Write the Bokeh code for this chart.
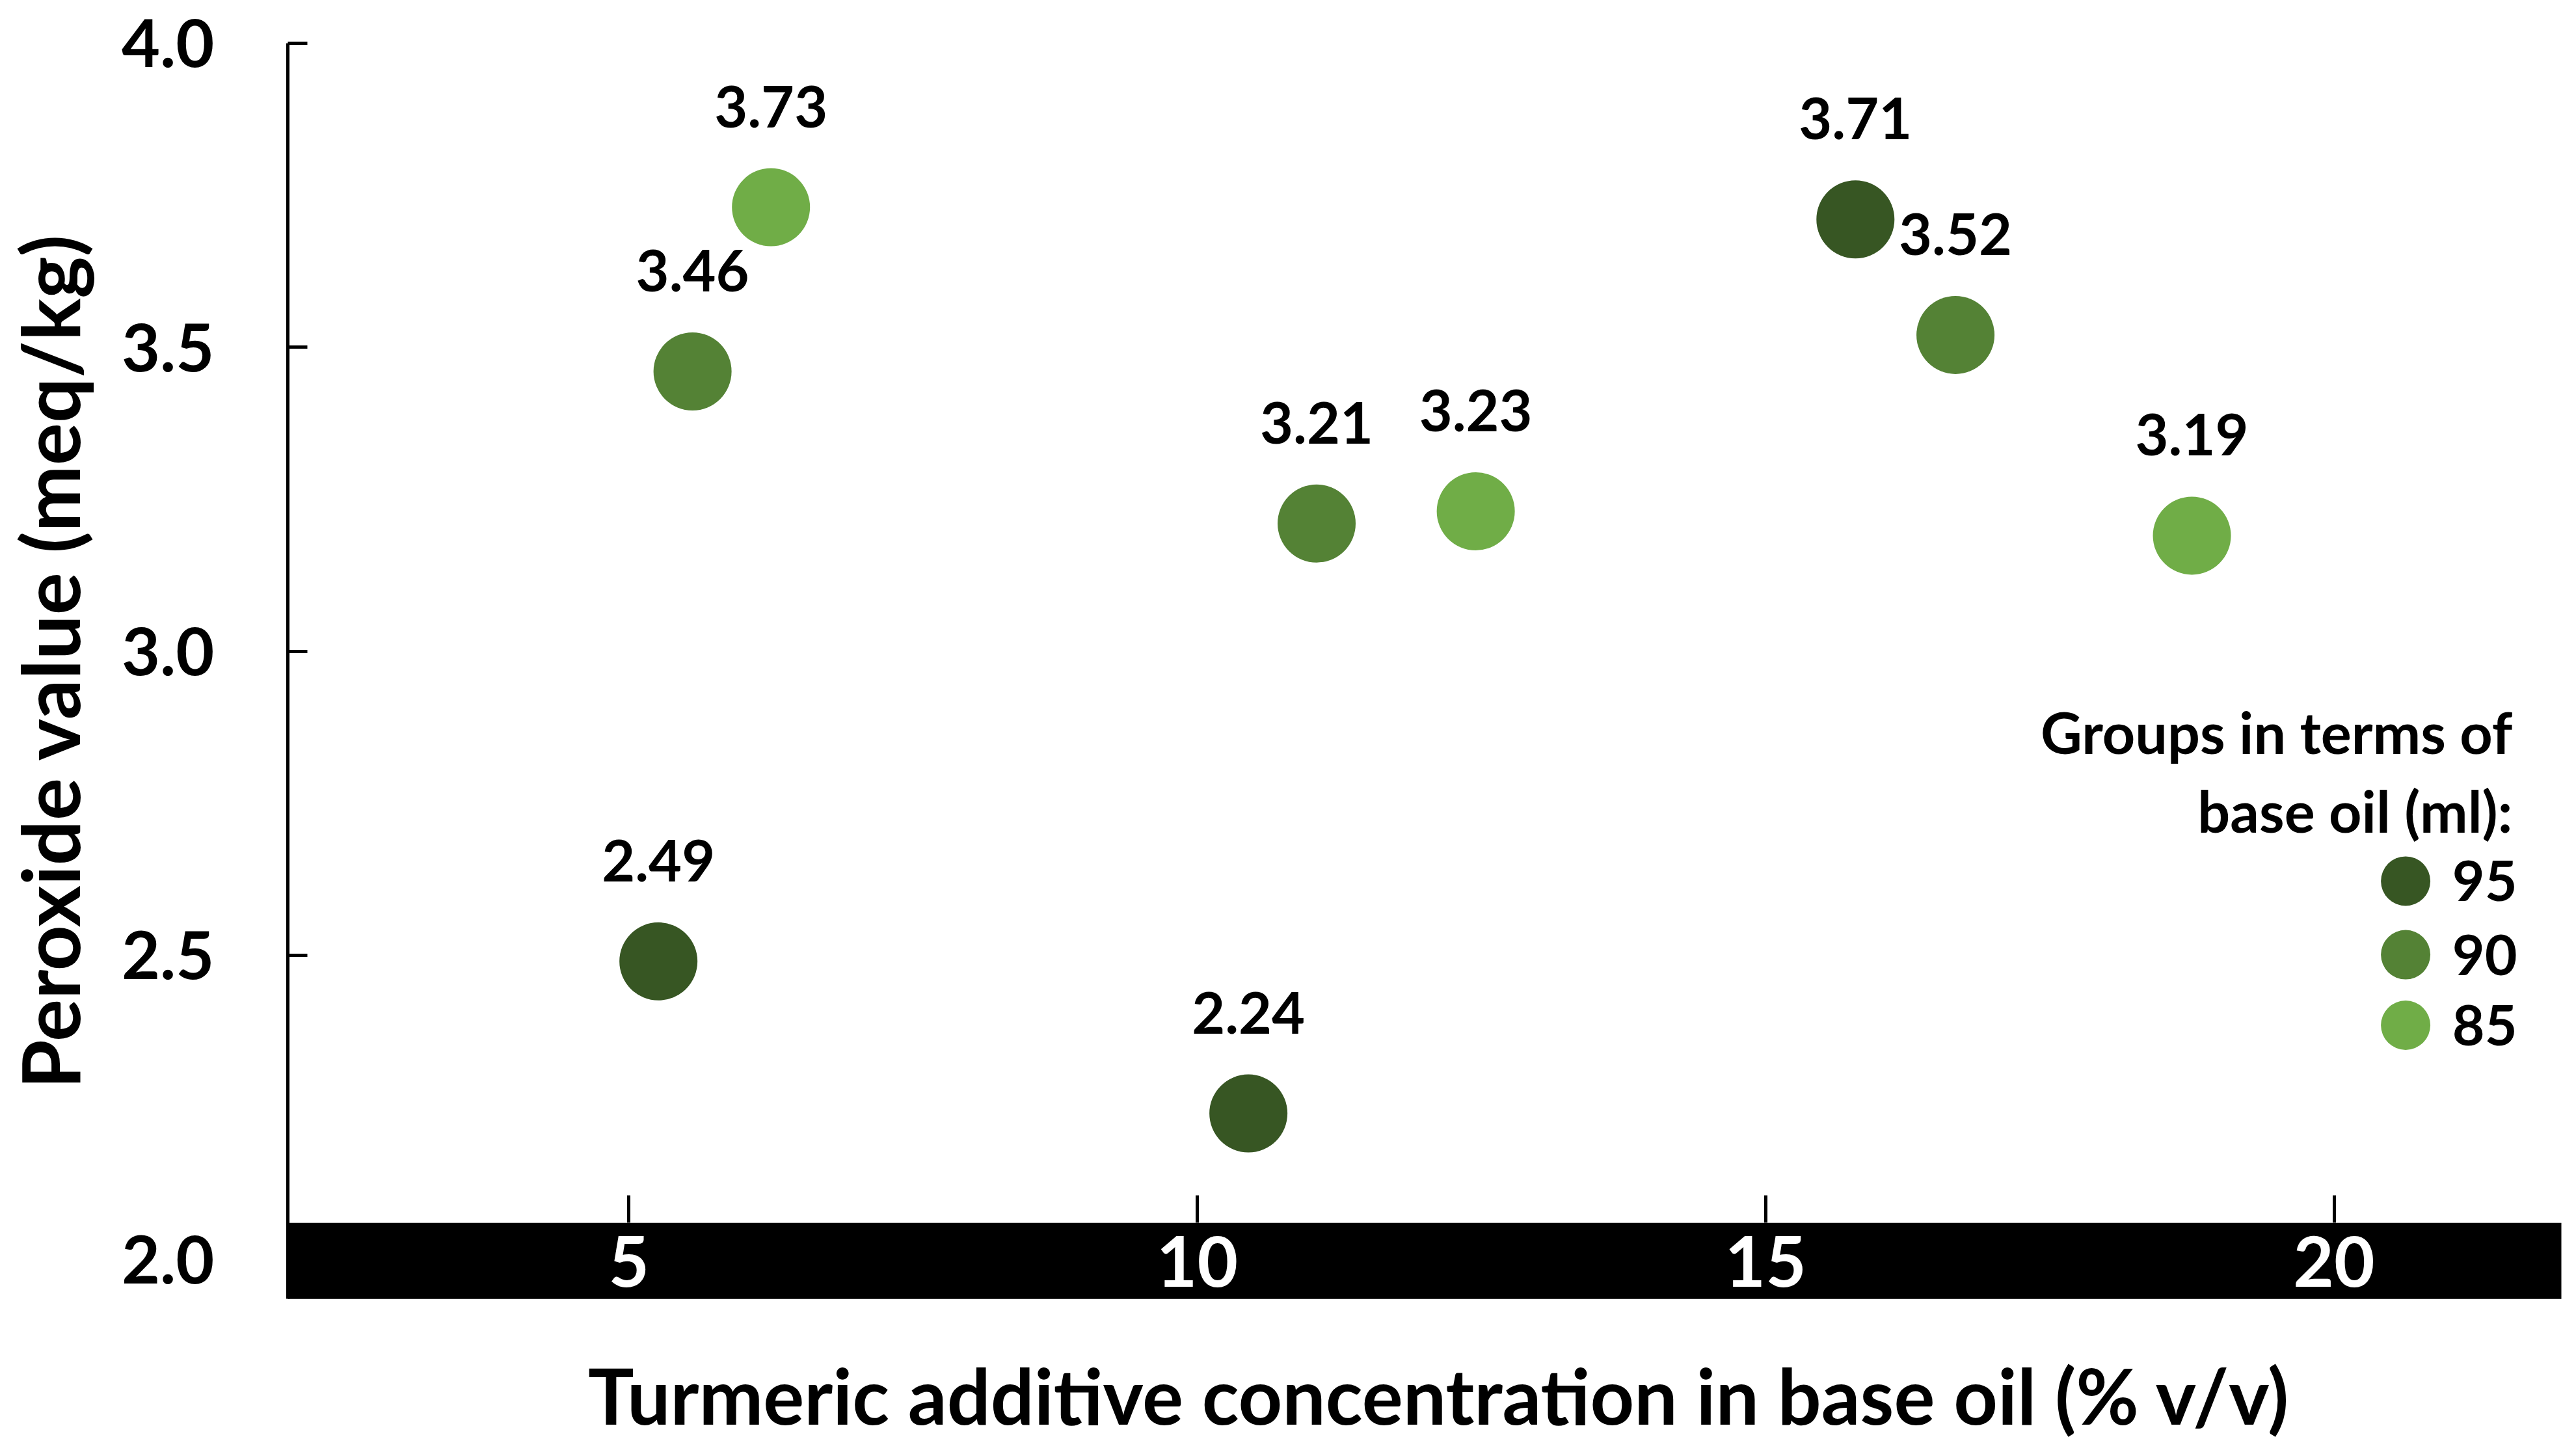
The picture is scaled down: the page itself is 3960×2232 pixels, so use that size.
import math
from bokeh.plotting import figure
from bokeh.models import (Range1d, LinearAxis, FixedTicker, BoxAnnotation, ColumnDataSource)
from bokeh.embed import file_html
from bokeh.resources import INLINE

# ---- data ----
groups = ["95", "90", "85"]
colors = ["#375623", "#548235", "#70AD47"]
x_95 = [5.26, 10.45, 15.79]
y_95 = [2.49, 2.24, 3.71]
x_90 = [5.56, 11.05, 16.67]
y_90 = [3.46, 3.21, 3.52]
x_85 = [6.25, 12.45, 18.75]
y_85 = [3.73, 3.23, 3.19]
x_ticks = [5, 10, 15, 20]
y_ticks = [2.0, 2.5, 3.0, 3.5, 4.0]
x_title = "Turmeric additive concentration in base oil (% v/v)"
y_title = "Peroxide value  (meq/kg)"
legend_title = ["Groups in terms of", "base oil (ml):"]

# ---- layout (plot coordinates) ----
X_MIN, X_MAX = 2.0, 22.0          # extent of the axes
Y_MIN, Y_MAX = 1.935, 4.0
BAND_TOP = 2.06
VIEW_X = (-0.5293, 22.04)         # whole canvas
VIEW_Y = (1.6999, 4.0702)
LEG_KEY_X = 20.63
LEG_TXT_X = 21.04
LEG_ROW_Y = [2.622, 2.501, 2.385]
LEG_TITLE_X = 21.57
LEG_TITLE_Y = [2.867, 2.738]
XT_POS = (12.13, 1.777)
YT_POS = (-0.10, 3.0)

FONT = "Lato"
# note: font sizes such as 100px/200px are avoided (mis-parsed as a font weight by the SVG backend)

p = figure(width=3944, height=2216, x_range=Range1d(*VIEW_X), y_range=Range1d(*VIEW_Y),
           output_backend="svg", toolbar_location=None, x_axis_location=None,
           y_axis_location=None, min_border=0)
p.outline_line_color = None
p.xgrid.visible = False
p.ygrid.visible = False
p.background_fill_color = "white"
p.border_fill_color = "white"

# black band behind the x axis
band = BoxAnnotation(bottom=Y_MIN, top=BAND_TOP, left=X_MIN, right=X_MAX,
                     fill_color="black", fill_alpha=1.0, line_alpha=0, level="underlay")
p.add_layout(band)

# x axis inside the band
xax = LinearAxis(fixed_location=BAND_TOP, bounds=(X_MIN, X_MAX),
                 ticker=FixedTicker(ticks=x_ticks),
                 major_tick_in=42, major_tick_out=0, major_tick_line_width=5,
                 major_tick_line_color="black", axis_line_color=None,
                 minor_tick_line_color=None, major_label_text_color="white",
                 major_label_text_font=FONT, major_label_text_font_style="bold",
                 major_label_text_font_size="108px", major_label_standoff=20)
p.add_layout(xax, "below")

# points and value labels
for c, xs, ys in [(colors[0], x_95, y_95), (colors[1], x_90, y_90), (colors[2], x_85, y_85)]:
    src = ColumnDataSource(dict(x=xs, y=ys, lab=[f"{v:.2f}" for v in ys]))
    p.scatter("x", "y", source=src, size=120, fill_color=c, line_color=None)
    p.text("x", "y", text="lab", source=src, y_offset=-155, text_align="center",
           text_baseline="middle", text_font_size="88px", text_font_style="bold",
           text_color="black", text_font={"value": FONT})

# legend (keys + labels + title)
leg = ColumnDataSource(dict(kx=[LEG_KEY_X] * 3, tx=[LEG_TXT_X] * 3, y=LEG_ROW_Y,
                            c=colors, g=groups))
p.scatter("kx", "y", source=leg, size=76, fill_color="c", line_color=None)
p.text("tx", "y", text="g", source=leg, text_align="left", text_baseline="middle",
       text_font_size="86px", text_font_style="bold", text_color="black",
       text_font={"value": FONT})
ttl = ColumnDataSource(dict(x=[LEG_TITLE_X] * 2, y=LEG_TITLE_Y, t=legend_title))
p.text("x", "y", text="t", source=ttl, text_align="right", text_baseline="middle",
       text_font_size="88px", text_font_style="bold", text_color="black",
       text_font={"value": FONT})

# y tick labels, placed through the y scale at the tick values
ysrc = ColumnDataSource(dict(x=[X_MIN] * len(y_ticks), y=y_ticks,
                             t=[f"{v:.1f}" for v in y_ticks]))
p.text("x", "y", text="t", source=ysrc, x_offset=-113, text_align="right",
       text_baseline="middle", text_font_size="102px", text_font_style="bold",
       text_color="black", text_font={"value": FONT})

# axis titles
p.text(x=[XT_POS[0]], y=[XT_POS[1]], text=[x_title], text_align="center",
       text_baseline="middle", text_font_size="118px", text_font_style="bold",
       text_color="black", text_font={"value": FONT})
p.text(x=[YT_POS[0]], y=[YT_POS[1]], text=[y_title], angle=math.pi / 2,
       text_align="center", text_baseline="middle", text_font_size="122px",
       text_font_style="bold", text_color="black", text_font={"value": FONT})

# y axis (line + ticks), drawn at the left edge of the plotting area
yax = LinearAxis(fixed_location=X_MIN, bounds=(Y_MIN, Y_MAX),
                 ticker=FixedTicker(ticks=y_ticks),
                 major_tick_in=30, major_tick_out=0, minor_tick_line_color=None,
                 axis_line_width=5, major_tick_line_width=5,
                 major_label_text_color=None, major_label_text_font_size="12px")
p.add_layout(yax, "left")

open("out.html", "w").write(file_html(p, INLINE))
